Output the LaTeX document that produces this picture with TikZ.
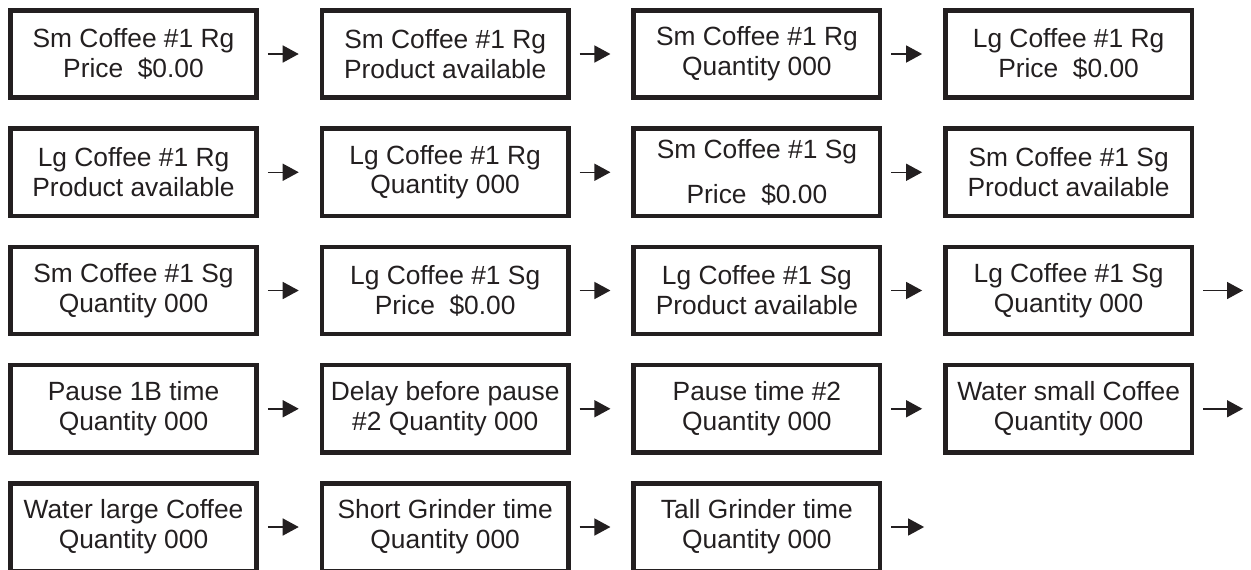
\documentclass[tikz,border=0pt]{standalone}
\usepackage{fontspec}
\setmainfont{Liberation Sans}
\usetikzlibrary{arrows.meta}

\definecolor{inkgray}{RGB}{35,31,32}
\tikzset{
  screen/.style={draw=inkgray, line width=0.09cm, minimum width=4.93cm, minimum height=1.75cm,
    inner sep=0pt, align=center, text=inkgray, font=\fontsize{15}{17}\selectfont},
  nextarrow/.style={draw=inkgray, -{Triangle[length=0.32cm,width=0.34cm]}, line width=0.03cm,
    shorten <=0.18cm, shorten >=0.42cm}
}

\begin{document}
\begin{tikzpicture}[x=0.02cm, y=-0.02cm]
    \useasboundingbox (0,0) rectangle (1251,569);
    % row 1
    \node[screen] (a1) at (133.5,54) {Sm Coffee \#1 Rg\\Price~~\$0.00};
    \node[screen] (a2) at (445.2,54) {Sm Coffee \#1 Rg\\Product available};
    \node[screen] (a3) at (756.9,54) {Sm Coffee \#1 Rg\\Quantity 000};
    \node[screen] (a4) at (1068.6,54) {Lg Coffee \#1 Rg\\Price~~\$0.00};
    % row 2
    \node[screen] (b1) at (133.5,172.25) {Lg Coffee \#1 Rg\\Product available};
    \node[screen] (b2) at (445.2,172.25) {Lg Coffee \#1 Rg\\Quantity 000};
    \node[screen] (b3) at (756.9,172.25) {Sm Coffee \#1 Sg\\[0.3cm]Price~~\$0.00};
    \node[screen] (b4) at (1068.6,172.25) {Sm Coffee \#1 Sg\\Product available};
    % row 3
    \node[screen] (c1) at (133.5,290.5) {Sm Coffee \#1 Sg\\Quantity 000};
    \node[screen] (c2) at (445.2,290.5) {Lg Coffee \#1 Sg\\Price~~\$0.00};
    \node[screen] (c3) at (756.9,290.5) {Lg Coffee \#1 Sg\\Product available};
    \node[screen] (c4) at (1068.6,290.5) {Lg Coffee \#1 Sg\\Quantity 000};
    % row 4
    \node[screen] (d1) at (133.5,408.75) {Pause 1B time\\Quantity 000};
    \node[screen] (d2) at (445.2,408.75) {Delay before pause\\\#2 Quantity 000};
    \node[screen] (d3) at (756.9,408.75) {Pause time \#2\\Quantity 000};
    \node[screen] (d4) at (1068.6,408.75) {Water small Coffee\\Quantity 000};
    % row 5
    \node[screen] (e1) at (133.5,527) {Water large Coffee\\Quantity 000};
    \node[screen] (e2) at (445.2,527) {Short Grinder time\\Quantity 000};
    \node[screen] (e3) at (756.9,527) {Tall Grinder time\\Quantity 000};

    \coordinate (c5) at (1264,290.5); \coordinate (d5) at (1264,408.75); \coordinate (e4) at (945.1,527);

    \foreach \p/\q in {a1/a2,a2/a3,a3/a4,b1/b2,b2/b3,b3/b4,c1/c2,c2/c3,c3/c4,c4/c5,
                       d1/d2,d2/d3,d3/d4,d4/d5,e1/e2,e2/e3,e3/e4}
        \draw[nextarrow] (\p) -- (\q);
\end{tikzpicture}
\end{document}
